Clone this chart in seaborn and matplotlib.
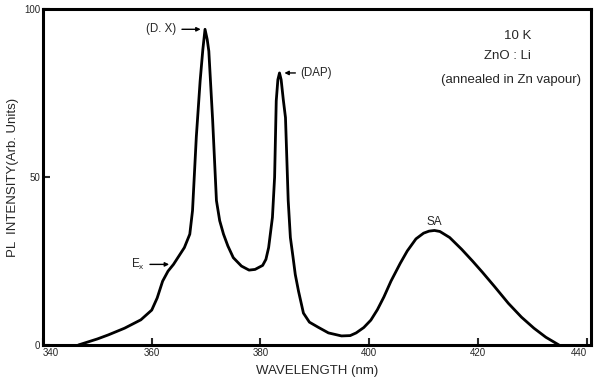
import pandas as pd
import matplotlib.pyplot as plt
import seaborn as sns

# PL spectrum of ZnO:Li at 10 K
wavelength = [346.5, 350, 352, 355, 358, 360, 361, 362, 363, 364, 365, 366, 367, 367.5,
              368.2, 368.9, 369.4, 369.8, 370.2, 370.5, 371.2, 371.9, 372.5, 373.2, 374,
              375, 376.5, 377.9, 379, 380.4, 381, 381.5, 382.2, 382.6, 382.9, 383.2, 383.5,
              383.8, 384.2, 384.6, 385.1, 385.5, 386, 386.4, 387, 387.9, 389, 390.6, 392.5,
              394.9, 396.5, 397.6, 399, 400.3, 401.5, 402.7, 404, 405.7, 407, 408.6, 410,
              411, 412, 413, 414.8, 417, 419, 420.8, 423, 425.6, 428, 430.3, 432.5, 434.9]
intensity = [0, 1.8, 3, 5, 7.5, 10.4, 14, 19, 22, 24, 26.5, 29, 33, 40,
             62, 78.6, 88, 94, 91, 87.5, 67, 43, 37, 33, 29.5,
             26, 23.5, 22.3, 22.5, 23.7, 25.5, 29, 38, 50, 72.7, 79, 81,
             79, 73, 67.7, 43, 32, 26, 21, 16, 9.5, 6.8, 5.3, 3.6,
             2.7, 2.8, 3.6, 5.2, 7.4, 10.5, 14.3, 19, 24.3, 28, 31.6, 33.3,
             33.9, 34.1, 33.8, 32, 28.5, 25, 21.7, 17.5, 12.4, 8.3, 5, 2.3, 0]

df = pd.DataFrame({"wavelength": wavelength, "intensity": intensity})

sns.set_style("ticks")
plt.rcParams["font.family"] = ["Liberation Sans", "DejaVu Sans"]

fig = plt.figure(figsize=(5.94, 3.81), dpi=100)
ax = fig.add_axes([0.0724, 0.0945, 0.9226, 0.8815])

sns.lineplot(data=df, x="wavelength", y="intensity", color="black", linewidth=2.0, ax=ax)

ax.set_xlim(341.8, 440.8)
ax.set_ylim(0, 100)
ax.set_xticks([340, 360, 380, 400, 420, 440])
ax.set_xticklabels(["340", "360", "380", "400", "420", "440"])
ax.set_yticks([0, 50, 100])
ax.tick_params(direction="in", length=5, width=1.5, labelsize=7, pad=2)
ax.get_xticklabels()[0].set_ha("left")
ax.get_xticklabels()[-1].set_ha("right")
for side in ["left", "right", "top", "bottom"]:
    ax.spines[side].set_linewidth(2.2)
    ax.spines[side].set_color("black")

ax.set_xlabel("WAVELENGTH (nm)", fontsize=9.5, labelpad=5)
ax.set_ylabel("PL  INTENSITY(Arb. Units)", fontsize=9.5)
ax.yaxis.set_label_coords(-0.044, 0.5)

# peak labels
arrow = dict(arrowstyle="-|>", color="black", lw=1, shrinkA=1.5, shrinkB=0, mutation_scale=6)
ax.annotate("(D. X)", xy=(369.0, 94), xytext=(361.8, 94), fontsize=8.3, va="center", ha="center",
            arrowprops=arrow)
ax.annotate("(DAP)", xy=(384.4, 81), xytext=(390.3, 81), fontsize=8.3, va="center", ha="center",
            arrowprops=arrow)
ax.annotate("E$_\\mathregular{x}$", xy=(363.2, 24), xytext=(357.4, 24), fontsize=8.5, va="center", ha="center",
            arrowprops=arrow)
ax.text(412, 36.5, "SA", fontsize=8.5, ha="center", va="center")

ax.text(427.3, 92, "10 K", fontsize=9.5, ha="center", va="center")
ax.text(425.5, 86, "ZnO : Li", fontsize=9.5, ha="center", va="center")
ax.text(426.0, 79, "(annealed in Zn vapour)", fontsize=9.5, ha="center", va="center")

fig.savefig("out.png", dpi=100)
